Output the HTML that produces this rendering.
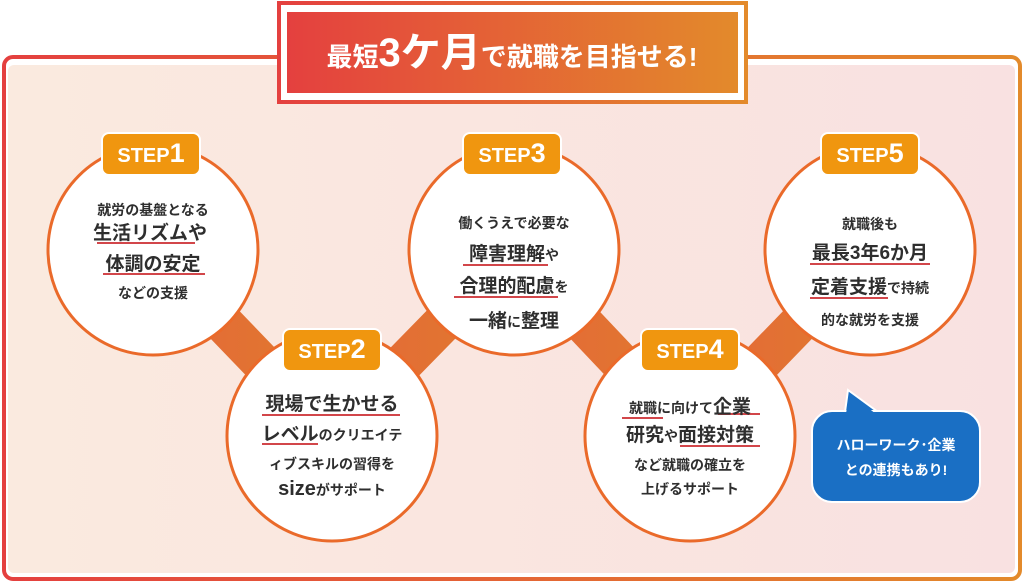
<!DOCTYPE html>
<html><head><meta charset="utf-8">
<style>
html,body{margin:0;padding:0;width:1024px;height:584px;overflow:hidden;background:#fff;}
svg text{font-family:"Liberation Sans","Noto Sans CJK JP",sans-serif;font-weight:bold;}
</style></head><body>
<svg width="1024" height="584" viewBox="0 0 1024 584" xmlns="http://www.w3.org/2000/svg">
<defs>
<linearGradient id="rg" x1="0" x2="1" y1="0" y2="0"><stop offset="0" stop-color="#e4403f"/><stop offset="1" stop-color="#e38a2b"/></linearGradient>
<linearGradient id="bg" x1="0" x2="1" y1="0" y2="0"><stop offset="0" stop-color="#faeadf"/><stop offset="1" stop-color="#f9e1e1"/></linearGradient>
<linearGradient id="cg" x1="0" x2="1" y1="0" y2="0"><stop offset="0" stop-color="#e5683a"/><stop offset="1" stop-color="#e07a2c"/></linearGradient>
</defs>
<rect x="4" y="57" width="1016" height="522" rx="9" fill="#fff" stroke="url(#rg)" stroke-width="4"/>
<rect x="8" y="65" width="1007" height="508" rx="6" fill="url(#bg)"/>
<g stroke="url(#cg)" stroke-width="40">
<line x1="153" y1="250" x2="332" y2="436"/>
<line x1="332" y1="436" x2="514" y2="250"/>
<line x1="514" y1="250" x2="690" y2="436"/>
<line x1="690" y1="436" x2="870" y2="250"/>
</g>
<rect x="279" y="3" width="467" height="99" fill="#fff" stroke="url(#rg)" stroke-width="4"/>
<rect x="287" y="12" width="451" height="81" fill="url(#rg)"/>
<text x="512" y="66" text-anchor="middle" fill="#fff" font-size="26"><tspan>最短</tspan><tspan font-size="40">3ケ月</tspan><tspan>で就職を目指せる!</tspan></text>
<g fill="#fff" stroke="#ea6a2a" stroke-width="3">
<circle cx="153" cy="250" r="105"/>
<circle cx="332" cy="436" r="105"/>
<circle cx="514" cy="250" r="105"/>
<circle cx="690" cy="436" r="105"/>
<circle cx="870" cy="250" r="105"/>
</g>
<g fill="#f0960f" stroke="#fff" stroke-width="2">
<rect x="102" y="133" width="98" height="42" rx="7"/>
<rect x="283" y="329" width="98" height="42" rx="7"/>
<rect x="463" y="133" width="98" height="42" rx="7"/>
<rect x="641" y="329" width="98" height="42" rx="7"/>
<rect x="821" y="133" width="98" height="42" rx="7"/>
</g>
<g fill="#fff" font-size="20" text-anchor="middle">
<text x="151" y="162">STEP<tspan font-size="27">1</tspan></text>
<text x="332" y="358">STEP<tspan font-size="27">2</tspan></text>
<text x="512" y="162">STEP<tspan font-size="27">3</tspan></text>
<text x="690" y="358">STEP<tspan font-size="27">4</tspan></text>
<text x="870" y="162">STEP<tspan font-size="27">5</tspan></text>
</g>
<g stroke="#d2464a" stroke-width="2">
<line x1="97" y1="243" x2="195" y2="243"/>
<line x1="103" y1="274" x2="205" y2="274"/>
<line x1="262" y1="415" x2="400" y2="415"/>
<line x1="262" y1="444" x2="318" y2="444"/>
<line x1="463" y1="265" x2="548" y2="265"/>
<line x1="454" y1="297" x2="558" y2="297"/>
<line x1="622" y1="418" x2="663" y2="418"/>
<line x1="718" y1="414" x2="760" y2="414"/>
<line x1="680" y1="446" x2="760" y2="446"/>
<line x1="810" y1="264" x2="930" y2="264"/>
<line x1="810" y1="298" x2="888" y2="298"/>
</g>
<g fill="#2e2e2e" text-anchor="middle">
<text x="153" y="215" font-size="14">就労の基盤となる</text>
<text x="150" y="239" font-size="19">生活リズムや</text>
<text x="153" y="270" font-size="19">体調の安定</text>
<text x="153" y="298" font-size="14">などの支援</text>

<text x="332" y="410" font-size="19">現場で生かせる</text>
<text x="332" y="440" font-size="19">レベル<tspan font-size="14">のクリエイテ</tspan></text>
<text x="332" y="469" font-size="14">ィブスキルの習得を</text>
<text x="332" y="495" font-size="20">size<tspan font-size="14">がサポート</tspan></text>

<text x="514" y="228" font-size="14">働くうえで必要な</text>
<text x="514" y="260" font-size="19">障害理解<tspan font-size="14">や</tspan></text>
<text x="514" y="292" font-size="19">合理的配慮<tspan font-size="14">を</tspan></text>
<text x="514" y="327" font-size="19">一緒<tspan font-size="14">に</tspan>整理</text>

<text x="690" y="413" font-size="14">就職に向けて<tspan font-size="19">企業</tspan></text>
<text x="690" y="441" font-size="19">研究<tspan font-size="14">や</tspan>面接対策</text>
<text x="690" y="470" font-size="14">など就職の確立を</text>
<text x="690" y="494" font-size="14">上げるサポート</text>

<text x="870" y="229" font-size="14">就職後も</text>
<text x="870" y="259" font-size="19">最長3年6か月</text>
<text x="870" y="293" font-size="19">定着支援<tspan font-size="14">で持続</tspan></text>
<text x="870" y="325" font-size="14">的な就労を支援</text>
</g>
<path d="M845 412 L848 390 L878 412 Z" fill="#1a6fc4" stroke="#fff" stroke-width="2"/>
<rect x="812" y="411" width="168" height="91" rx="20" fill="#1a6fc4" stroke="#fff" stroke-width="2"/>
<path d="M846 414 L849 393 L876 414 Z" fill="#1a6fc4"/>
<g fill="#fff" text-anchor="middle" font-size="14">
<text x="896" y="450">ハローワーク･企業</text>
<text x="896" y="475">との連携もあり!</text>
</g>
</svg>
</body></html>
